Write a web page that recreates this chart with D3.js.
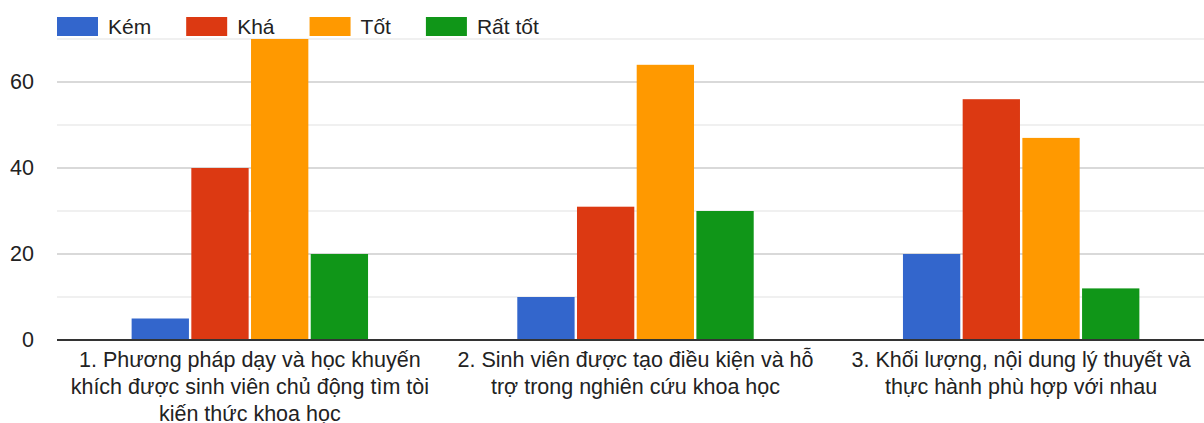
<!DOCTYPE html>
<html>
<head>
<meta charset="utf-8">
<script src="https://cdn.jsdelivr.net/npm/d3@7"></script>
<style>
  html, body { margin: 0; padding: 0; background: #fff; }
  svg { display: block; font-family: "Liberation Sans", Arial, sans-serif; }
</style>
</head>
<body>
<script>
// Dữ liệu
const categories = [
    ["1. Phương pháp dạy và học khuyến", "khích được sinh viên chủ động tìm tòi", "kiến thức khoa học"],
    ["2. Sinh viên được tạo điều kiện và hỗ", "trợ trong nghiên cứu khoa học"],
    ["3. Khối lượng, nội dung lý thuyết và", "thực hành phù hợp với nhau"]
];
const seriesNames = ["Kém", "Khá", "Tốt", "Rất tốt"];
const kem = [5, 10, 20];
const kha = [40, 31, 56];
const tot = [70, 64, 47];
const ratTot = [20, 30, 12];
const yTicks = [0, 10, 20, 30, 40, 50, 60, 70];
const yLabels = [0, 20, 40, 60];

const colors = ["#3366cc", "#dc3912", "#ff9900", "#109618"];
const series = [kem, kha, tot, ratTot];

const width = 1204;
const height = 423;
const margin = { left: 57, right: -10, top: 39, bottom: 83 };

const svg = d3.select("body")
    .append("svg")
    .attr("width", width)
    .attr("height", height);

// Thang đo
const x0 = d3.scaleBand()
    .domain(d3.range(categories.length))
    .range([margin.left, width - margin.right])
    .paddingInner(0.387)
    .paddingOuter(0.1935);

const x1 = d3.scaleBand()
    .domain(d3.range(seriesNames.length))
    .range([0, x0.bandwidth()])
    .paddingInner(0.04);

const y = d3.scaleLinear()
    .domain([0, 70])
    .range([height - margin.bottom, margin.top]);

// Lưới
svg.append("g")
    .selectAll("line")
    .data(yTicks)
    .enter()
    .append("line")
    .attr("x1", margin.left)
    .attr("x2", width)
    .attr("y1", d => y(d))
    .attr("y2", d => y(d))
    .attr("stroke", d => yLabels.includes(d) ? "#cccccc" : "#ebebeb")
    .attr("stroke-width", 1.5);

// Nhãn trục y
const yAxis = svg.append("g")
    .attr("transform", `translate(${margin.left - 23},0)`)
    .call(d3.axisLeft(y).tickValues(yLabels).tickSize(0).tickPadding(0));
yAxis.select(".domain").remove();
yAxis.selectAll("text")
    .style("font-size", "21.5px")
    .style("font-family", "'Liberation Sans', Arial, sans-serif")
    .attr("fill", "#222");

// Cột
const groups = svg.append("g")
    .selectAll("g")
    .data(categories)
    .enter()
    .append("g")
    .attr("transform", (d, i) => `translate(${x0(i)},0)`);

groups.selectAll("rect")
    .data((d, i) => series.map((s, j) => ({ s: j, value: s[i] })))
    .enter()
    .append("rect")
    .attr("x", d => x1(d.s))
    .attr("width", x1.bandwidth())
    .attr("y", d => y(d.value))
    .attr("height", d => y(0) - y(d.value))
    .attr("fill", d => colors[d.s]);

// Đường đáy
svg.append("line")
    .attr("x1", margin.left)
    .attr("x2", width)
    .attr("y1", y(0))
    .attr("y2", y(0))
    .attr("stroke", "#333")
    .attr("stroke-width", 2);

// Nhãn danh mục
groups.each(function (lines, i) {
    const t = d3.select(this).append("text")
        .attr("text-anchor", "middle")
        .attr("fill", "#222")
        .style("font-size", "21.5px");
    lines.forEach((line, k) => {
        t.append("tspan")
            .attr("x", x0.bandwidth() / 2)
            .attr("y", y(0) + 27 + k * 27)
            .text(line);
    });
});

// Chú giải
const legend = svg.append("g");
let lx = 57;
seriesNames.forEach((name, i) => {
    legend.append("rect")
        .attr("x", lx)
        .attr("y", 17)
        .attr("width", 41)
        .attr("height", 19)
        .attr("fill", colors[i]);
    const txt = legend.append("text")
        .attr("x", lx + 51)
        .attr("y", 34)
        .attr("fill", "#222")
        .style("font-size", "21px")
        .text(name);
    lx += 51 + txt.node().getComputedTextLength() + 35;
});
</script>
</body>
</html>
